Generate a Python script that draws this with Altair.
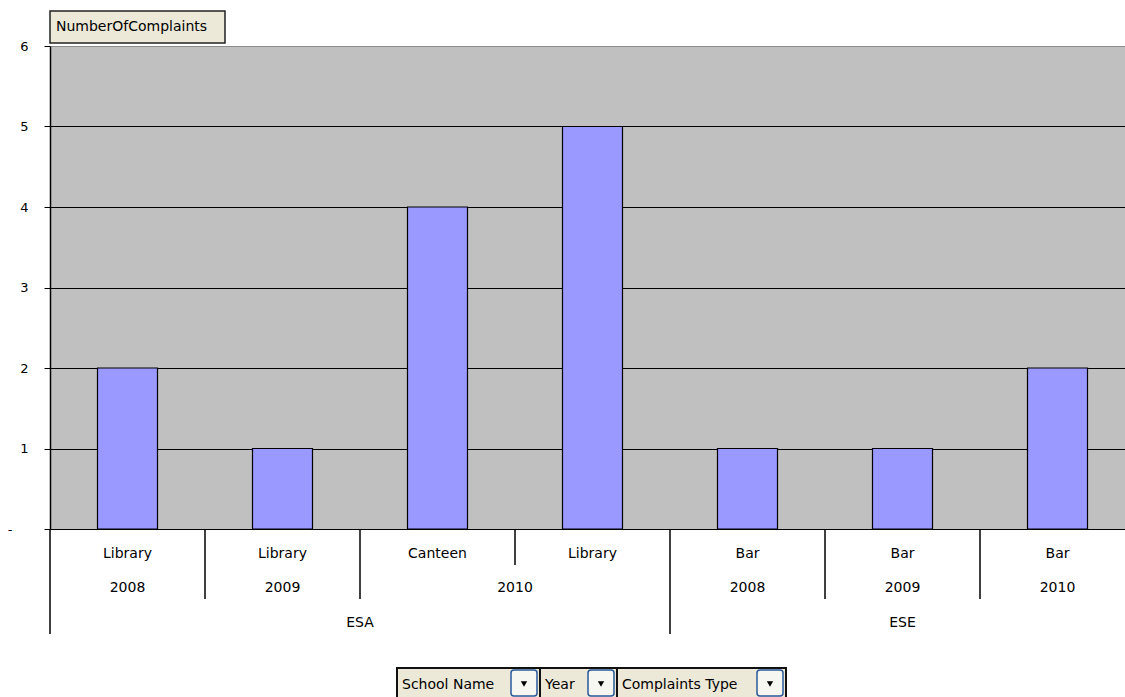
import altair as alt
import pandas as pd

# ---- data ----
schools = ["ESA", "ESA", "ESA", "ESA", "ESE", "ESE", "ESE"]
years = ["2008", "2009", "2010", "2010", "2008", "2009", "2010"]
types = ["Library", "Library", "Canteen", "Library", "Bar", "Bar", "Bar"]
counts = [2, 1, 4, 5, 1, 1, 2]
y_ticks = [0, 1, 2, 3, 4, 5, 6]
value_field = "NumberOfComplaints"
filter_fields = ["School Name", "Year", "Complaints Type"]

FONT = "DejaVu Sans"
n = len(counts)
W, H = 1075, 483
XMAX = n * W / 1085.0  # plot area continues past the window edge
xs = alt.Scale(domain=[0, XMAX], nice=False, zero=False, padding=0)
ysc = alt.Scale(domain=[0, 6], nice=False, padding=0)

bars = pd.DataFrame({"pos": [i + 0.5 for i in range(n)], "count": counts,
                     "type": types, "year": years, "school": schools})


def runs(keys, labels):
    out = []
    start = 0
    for i in range(1, len(keys) + 1):
        if i == len(keys) or keys[i] != keys[start]:
            out.append({"pos": (start + i) / 2.0, "label": labels[start]})
            start = i
    return pd.DataFrame(out)


year_runs = runs(list(zip(schools, years)), years)
school_runs = runs(schools, schools)

b_type, b_year, b_school = [], [], []
for b in range(0, n):
    if b == 0 or schools[b] != schools[b - 1]:
        b_school.append(b)
    elif years[b] != years[b - 1]:
        b_year.append(b)
    else:
        b_type.append(b)

bar_layer = alt.Chart(bars).mark_bar(
    orient="vertical", size=60, color="#9999FF", stroke="black", strokeWidth=1.2
).encode(
    x=alt.X("pos:Q", scale=xs, axis=None),
    y=alt.Y("count:Q", scale=ysc, axis=alt.Axis(
        values=y_ticks, title=None, grid=True,
        gridColor=alt.condition("datum.value == 6", alt.value("#8c8c8c"), alt.value("black")),
        gridWidth=1.2,
        labelExpr="datum.value == 0 ? '-' : datum.label",
        labelPadding=alt.condition("datum.value == 0", alt.value(32), alt.value(16)),
        labelFont=FONT, labelFontSize=13, labelColor="black",
        tickColor="black", tickSize=6,
        domainColor="black", domainWidth=1.5,
    )),
)


def text_layer(df, field, yoff):
    return alt.Chart(df).mark_text(font=FONT, fontSize=14, color="black", baseline="middle").encode(
        x=alt.X("pos:Q", scale=xs, axis=None),
        y=alt.value(H + yoff),
        text=f"{field}:N",
    )


type_text = text_layer(bars, "type", 25)
year_text = text_layer(year_runs, "label", 59)
school_text = text_layer(school_runs, "label", 94)


def rule_layer(bs, depth):
    return alt.Chart(pd.DataFrame({"pos": bs})).mark_rule(color="black", strokeWidth=1.5).encode(
        x=alt.X("pos:Q", scale=xs, axis=None),
        y=alt.value(H),
        y2=alt.value(H + depth),
    )


rules = [rule_layer(b_type, 36), rule_layer(b_year, 70), rule_layer(b_school, 105)]

dummy = pd.DataFrame({"a": [0]})


def box(x1, x2, y1, y2, fill, stroke, sw=1.5, r=0):
    return alt.Chart(dummy).mark_rect(fill=fill, stroke=stroke, strokeWidth=sw, cornerRadius=r).encode(
        x=alt.value(x1), x2=alt.value(x2), y=alt.value(y1), y2=alt.value(y2))


def label(x, y, t, size=14):
    return alt.Chart(dummy).mark_text(font=FONT, fontSize=size, color="black", align="left",
                                      baseline="middle").encode(
        x=alt.value(x), y=alt.value(y), text=alt.value(t))


deco = [box(0, 175, -35, -3, "#ECE9D8", "#222222"), label(6, -19, value_field)]

# bottom field buttons
btn_x = [(347, 490), (490, 567), (567, 736)]
for (x1, x2), name in zip(btn_x, filter_fields):
    deco.append(box(x1, x2, 622, 655, "#ECE9D8", "#111111", 2))
    deco.append(label(x1 + 5, 639, name))
    deco.append(box(x2 - 29, x2 - 3, 624, 650, "#F7F7F2", "#2A5A9A", 1.5, 3))
    deco.append(alt.Chart(dummy).mark_point(shape="triangle-down", filled=True, size=40,
                                            color="black", opacity=1).encode(
        x=alt.value(x2 - 16), y=alt.value(638)))

chart = alt.layer(bar_layer, type_text, year_text, school_text, *rules, *deco).properties(
    width=W, height=H,
    padding={"left": 50, "top": 46, "right": 0, "bottom": 168},
    autosize="none",
    background="white",
).configure_view(fill="#C0C0C0", stroke="transparent")

chart.save("out.html", embed_options={"renderer": "svg", "actions": False})
